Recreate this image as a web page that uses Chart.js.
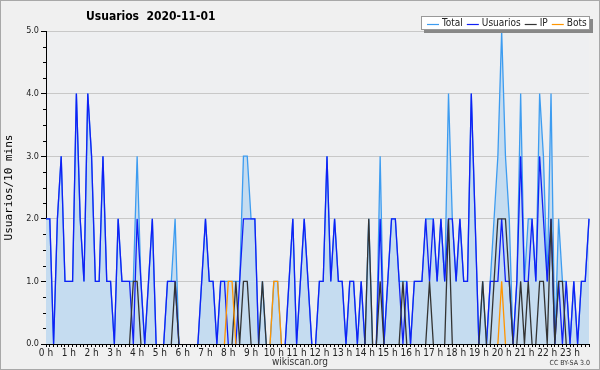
<!DOCTYPE html>
<html><head><meta charset="utf-8">
<script src="https://cdn.jsdelivr.net/npm/chart.js@4.4.0/dist/chart.umd.min.js"></script>
<style>html,body{margin:0;padding:0;background:#f0f0f0;}canvas{display:block;}</style>
</head><body>
<canvas id="c" width="600" height="370"></canvas>
<script>
const chartTitle = 'Usuarios  2020-11-01';
const yTitle = 'Usuarios/10 mins';
const footer = 'wikiscan.org';
const license = 'CC BY-SA 3.0';
const hourLabels = ['0 h','1 h','2 h','3 h','4 h','5 h','6 h','7 h','8 h','9 h','10 h','11 h','12 h','13 h','14 h','15 h','16 h','17 h','18 h','19 h','20 h','21 h','22 h','23 h'];
const categories = [];
for (let h = 0; h < 24; h++) for (let m = 0; m < 60; m += 10) categories.push(h + ':' + String(m).padStart(2, '0'));

const total = [
 2,2,0,2,3,1,1,1,4,2, 1,4,3,1,1,3,1,1,0,2, 1,1,1,1,3,1,0,1,2,0, 0,0,1,1,2,0,0,0,0,0,
 0,1,2,1,1,0,1,1,1,1, 1,1,3,3,2,2,0,1,0,0, 1,1,0,0,1,2,0,1,2,1, 0,0,1,1,3,1,2,1,1,0,
 1,1,0,1,0,2,0,0,3,0, 1,2,2,1,1,1,0,1,1,1, 2,2,2,1,2,1,4,2,1,2, 1,1,4,2,0,1,0,1,2,3,
 5,3,2,0,1,4,1,2,2,1, 4,3,1,4,0,2,1,1,0,1, 0,1,1,2];
const usuarios = [
 2,2,0,2,3,1,1,1,4,2, 1,4,3,1,1,3,1,1,0,2, 1,1,1,0,2,1,0,1,2,0, 0,0,1,1,1,0,0,0,0,0,
 0,1,2,1,1,0,1,1,0,0, 0,1,2,2,2,2,0,0,0,0, 0,0,0,0,1,2,0,1,2,1, 0,0,1,1,3,1,2,1,1,0,
 1,1,0,1,0,0,0,0,2,0, 1,2,2,1,0,1,0,1,1,1, 2,1,2,1,2,1,2,2,1,2, 1,1,4,2,0,0,0,1,1,1,
 2,1,1,0,1,3,1,1,2,1, 3,2,1,2,0,1,0,1,0,1, 0,1,1,2];
const ip = [
 0,0,0,0,0,0,0,0,0,0, 0,0,0,0,0,0,0,0,0,0, 0,0,0,1,1,0,0,0,0,0, 0,0,0,0,1,0,0,0,0,0,
 0,0,0,0,0,0,0,0,0,0, 1,0,1,1,0,0,0,1,0,0, 0,0,0,0,0,0,0,0,0,0, 0,0,0,0,0,0,0,0,0,0,
 0,0,0,0,0,2,0,0,1,0, 0,0,0,0,1,0,0,0,0,0, 0,1,0,0,0,0,2,0,0,0, 0,0,0,0,0,1,0,0,1,2,
 2,2,1,0,0,1,0,1,0,0, 1,1,0,2,0,1,1,0,0,0, 0,0,0,0];
const bots = [
 0,0,0,0,0,0,0,0,0,0, 0,0,0,0,0,0,0,0,0,0, 0,0,0,0,0,0,0,0,0,0, 0,0,0,0,0,0,0,0,0,0,
 0,0,0,0,0,0,0,0,1,1, 0,0,0,0,0,0,0,0,0,0, 1,1,0,0,0,0,0,0,0,0, 0,0,0,0,0,0,0,0,0,0,
 0,0,0,0,0,0,0,0,0,0, 0,0,0,0,0,0,0,0,0,0, 0,0,0,0,0,0,0,0,0,0, 0,0,0,0,0,0,0,0,0,0,
 1,0,0,0,0,0,0,0,0,0, 0,0,0,0,0,0,0,0,0,0, 0,0,0,0];
const seriesNames = ['Total','Usuarios','IP','Bots'];
const yTicks = [0,1,2,3,4,5];

const FONT = "'DejaVu Sans Condensed','Liberation Sans Narrow','DejaVu Sans',sans-serif";
Chart.defaults.font.family = FONT;

const hideZero = ctx => (ctx.p0.parsed.y === 0 && ctx.p1.parsed.y === 0) ? 'rgba(0,0,0,0)' : undefined;

const deco = {
  id: 'deco',
  beforeDraw(chart) {
    const {ctx, chartArea: a} = chart;
    ctx.save();
    ctx.fillStyle = '#f0f0f0';
    ctx.fillRect(0, 0, chart.width, chart.height);
    ctx.fillStyle = '#eeeff1';
    ctx.fillRect(a.left, a.top, a.right - a.left, a.bottom - a.top);
    ctx.restore();
  },
  afterDraw(chart) {
    const {ctx, chartArea: a} = chart;
    const ys = chart.scales.y;
    ctx.save();
    ctx.strokeStyle = '#a8a8a8';
    ctx.lineWidth = 1;
    ctx.strokeRect(0.5, 0.5, chart.width - 1, chart.height - 1);
    ctx.strokeStyle = '#000';
    ctx.beginPath();
    for (let v = 0; v <= 5; v += 0.25) {
      if (Number.isInteger(v)) continue;
      const y = Math.round(ys.getPixelForValue(v)) + 0.5;
      ctx.moveTo(a.left - 3, y); ctx.lineTo(a.left, y);
    }
    ctx.stroke();
    ctx.fillStyle = '#000';
    ctx.font = "bold 12px " + FONT;
    ctx.textBaseline = 'middle';
    ctx.textAlign = 'left';
    ctx.fillText(chartTitle, 86, 17);
    ctx.save();
    ctx.translate(9, (a.top + a.bottom) / 2);
    ctx.rotate(-Math.PI / 2);
    ctx.textAlign = 'center';
    ctx.font = "11px 'DejaVu Sans Mono', monospace";
    ctx.fillText(yTitle, 0, 0);
    ctx.restore();
    ctx.textAlign = 'center';
    ctx.font = "10px " + FONT;
    ctx.fillStyle = '#333';
    ctx.fillText(footer, 300, 362);
    ctx.textAlign = 'right';
    ctx.font = "7px " + FONT;
    ctx.fillText(license, 590, 363);
    const bx = 421, by = 16, bw = 169, bh = 14;
    ctx.fillStyle = '#888';
    ctx.fillRect(bx + 3, by + 3, bw, bh);
    ctx.fillStyle = '#fff';
    ctx.fillRect(bx, by, bw, bh);
    ctx.strokeStyle = '#999';
    ctx.strokeRect(bx + 0.5, by + 0.5, bw - 1, bh - 1);
    ctx.font = "10px " + FONT;
    ctx.textAlign = 'left';
    let x = 427;
    const ly = by + bh / 2 + 0.5;
    chart.data.datasets.forEach(ds => {
      ctx.strokeStyle = ds.borderColor;
      ctx.lineWidth = 1.2;
      ctx.beginPath(); ctx.moveTo(x, Math.round(ly) + 0.5); ctx.lineTo(x + 12, Math.round(ly) + 0.5); ctx.stroke();
      x += 15;
      ctx.fillStyle = '#222';
      ctx.fillText(ds.label, x, ly);
      x += ctx.measureText(ds.label).width + 4;
    });
    ctx.restore();
  }
};

new Chart(document.getElementById('c'), {
  type: 'line',
  data: {
    labels: categories,
    datasets: [
      {label: seriesNames[0], data: total, borderColor: '#3d9cf0', backgroundColor: '#c5dcf0', fill: 'origin', order: 4},
      {label: seriesNames[1], data: usuarios, borderColor: '#1020f5', fill: false, order: 3},
      {label: seriesNames[2], data: ip, borderColor: '#333333', fill: false, order: 2},
      {label: seriesNames[3], data: bots, borderColor: '#ff9500', fill: false, order: 1}
    ]
  },
  options: {
    responsive: false,
    devicePixelRatio: 1,
    animation: false,
    layout: {padding: {left: 0, right: 11, top: 31, bottom: 0}},
    elements: {line: {borderWidth: 1.3, tension: 0}, point: {radius: 0}},
    datasets: {line: {clip: false, segment: {borderColor: hideZero}}},
    plugins: {legend: {display: false}, title: {display: false}, tooltip: {enabled: false}},
    scales: {
      x: {
        type: 'category', offset: false, z: 1,
        ticks: {autoSkip: false, maxRotation: 0, minRotation: 0, font: {size: 10}, color: '#222', padding: 0,
          callback: (v, i) => (i % 6 === 0 ? hourLabels[i / 6] : '')},
        grid: {drawOnChartArea: false, tickColor: '#000', tickLength: 3, color: '#000'},
        border: {color: '#000'},
        afterFit(s) { s.height = 26; }
      },
      y: {
        min: 0, max: 5,
        afterBuildTicks(s) { s.ticks = yTicks.map(v => ({value: v})); },
        ticks: {font: {size: 9}, color: '#222', padding: 2, callback: v => Number(v).toFixed(1)},
        grid: {color: '#c8c8c8', tickColor: '#000', tickLength: 5},
        border: {color: '#000'},
        afterFit(s) { s.width = 46; }
      }
    }
  },
  plugins: [deco]
});
</script>
</body></html>
